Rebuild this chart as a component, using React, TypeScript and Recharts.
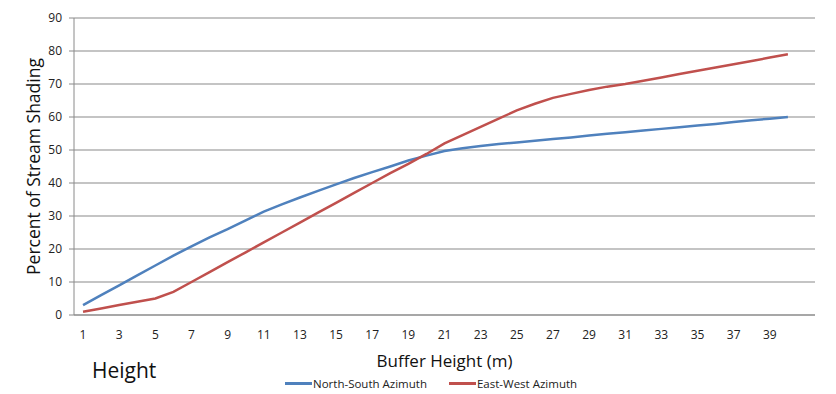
import React from 'react';
import { LineChart, Line, XAxis, YAxis, CartesianGrid, Legend } from 'recharts';

const heights = [1, 2, 3, 4, 5, 6, 7, 8, 9, 10, 11, 12, 13, 14, 15, 16, 17, 18, 19, 20, 21, 22, 23, 24, 25, 26, 27, 28, 29, 30, 31, 32, 33, 34, 35, 36, 37, 38, 39, 40];
const northSouth = [3, 6, 9, 12, 15, 18, 20.8, 23.5, 26, 28.7, 31.3, 33.5, 35.6, 37.6, 39.6, 41.5, 43.3, 45, 46.8, 48.3, 49.7, 50.5, 51.2, 51.8, 52.3, 52.8, 53.3, 53.8, 54.4, 54.9, 55.4, 55.9, 56.4, 56.9, 57.4, 57.9, 58.5, 59, 59.5, 60];
const eastWest = [1, 2, 3, 4, 5, 7, 10, 13, 16, 19, 22, 25, 28, 31, 34, 37, 40, 43, 45.8, 48.8, 52, 54.5, 57, 59.5, 62, 64, 65.8, 67, 68.2, 69.2, 70, 71, 72, 73, 74, 75, 76, 77, 78, 79];
const xLabelTicks = [1, 3, 5, 7, 9, 11, 13, 15, 17, 19, 21, 23, 25, 27, 29, 31, 33, 35, 37, 39];
const yTicks = [0, 10, 20, 30, 40, 50, 60, 70, 80, 90];

// Excel draws the tick marks between categories; one empty slot at the end
const xMarkTicks = [...heights, 41, 42].map((h) => h - 0.5);
const xDomain = [0.5, 41.5];

const data = heights.map((h, i) => ({ h, ns: northSouth[i], ew: eastWest[i] }));

const font = '"Open Sans", sans-serif';
const axisGray = '#8a8a8a';

const renderLegend = (props: any) => (
  <div style={{ display: 'flex', gap: 22, fontSize: 11.5, fontFamily: font, color: '#222' }}>
    {(props.payload || []).map((p: any) => (
      <div key={p.value} style={{ display: 'flex', alignItems: 'center' }}>
        <span style={{ display: 'inline-block', width: 27, height: 3, background: p.color, marginRight: 1 }} />
        {p.value}
      </div>
    ))}
  </div>
);

export default function App() {
  return (
    <div style={{ position: 'absolute', left: 0, top: 0, width: 836, height: 394, background: '#fff' }}>
      <LineChart width={836} height={394} data={data} margin={{ top: 18, right: 21, left: 0, bottom: 19 }}>
        <CartesianGrid xAxisId="b" vertical={false} stroke={axisGray} strokeWidth={1.2} />
        <XAxis
          xAxisId="a"
          dataKey="h"
          type="number"
          domain={xDomain}
          ticks={xMarkTicks}
          tick={false}
          tickSize={5}
          height={6}
          stroke={axisGray}
          allowDataOverflow
        />
        <XAxis
          xAxisId="b"
          dataKey="h"
          type="number"
          domain={xDomain}
          ticks={xLabelTicks}
          tickLine={false}
          axisLine={false}
          tickSize={0}
          tickMargin={9}
          height={54}
          interval={0}
          tick={{ fontSize: 12, fill: '#222', fontFamily: font }}
          label={{ value: 'Buffer Height (m)', position: 'insideBottom', offset: 8, fontSize: 17, fill: '#111', fontFamily: font }}
          allowDataOverflow
        />
        <YAxis
          domain={[0, 90]}
          ticks={yTicks}
          width={74}
          stroke={axisGray}
          tickSize={5}
          tickMargin={7}
          interval={0}
          tick={{ fontSize: 12, fill: '#222', fontFamily: font }}
          label={{ value: 'Percent of Stream Shading', angle: -90, position: 'center', dx: -3, fontSize: 17.5, fill: '#111', fontFamily: font }}
        />
        <Legend
          content={renderLegend}
          layout="horizontal"
          verticalAlign="middle"
          align="center"
          itemSorter={() => 0}
          wrapperStyle={{ position: 'absolute', left: 285, top: 376, width: 'auto' }}
        />
        <Line xAxisId="b" type="linear" dataKey="ns" name="North-South Azimuth" stroke="#4F81BD" strokeWidth={2.5} dot={false} isAnimationActive={false} />
        <Line xAxisId="b" type="linear" dataKey="ew" name="East-West Azimuth" stroke="#C0504D" strokeWidth={2.5} dot={false} isAnimationActive={false} />
      </LineChart>
      <div style={{ position: 'absolute', left: 92, top: 356, fontSize: 21, fontFamily: font, color: '#111' }}>Height</div>
    </div>
  );
}
